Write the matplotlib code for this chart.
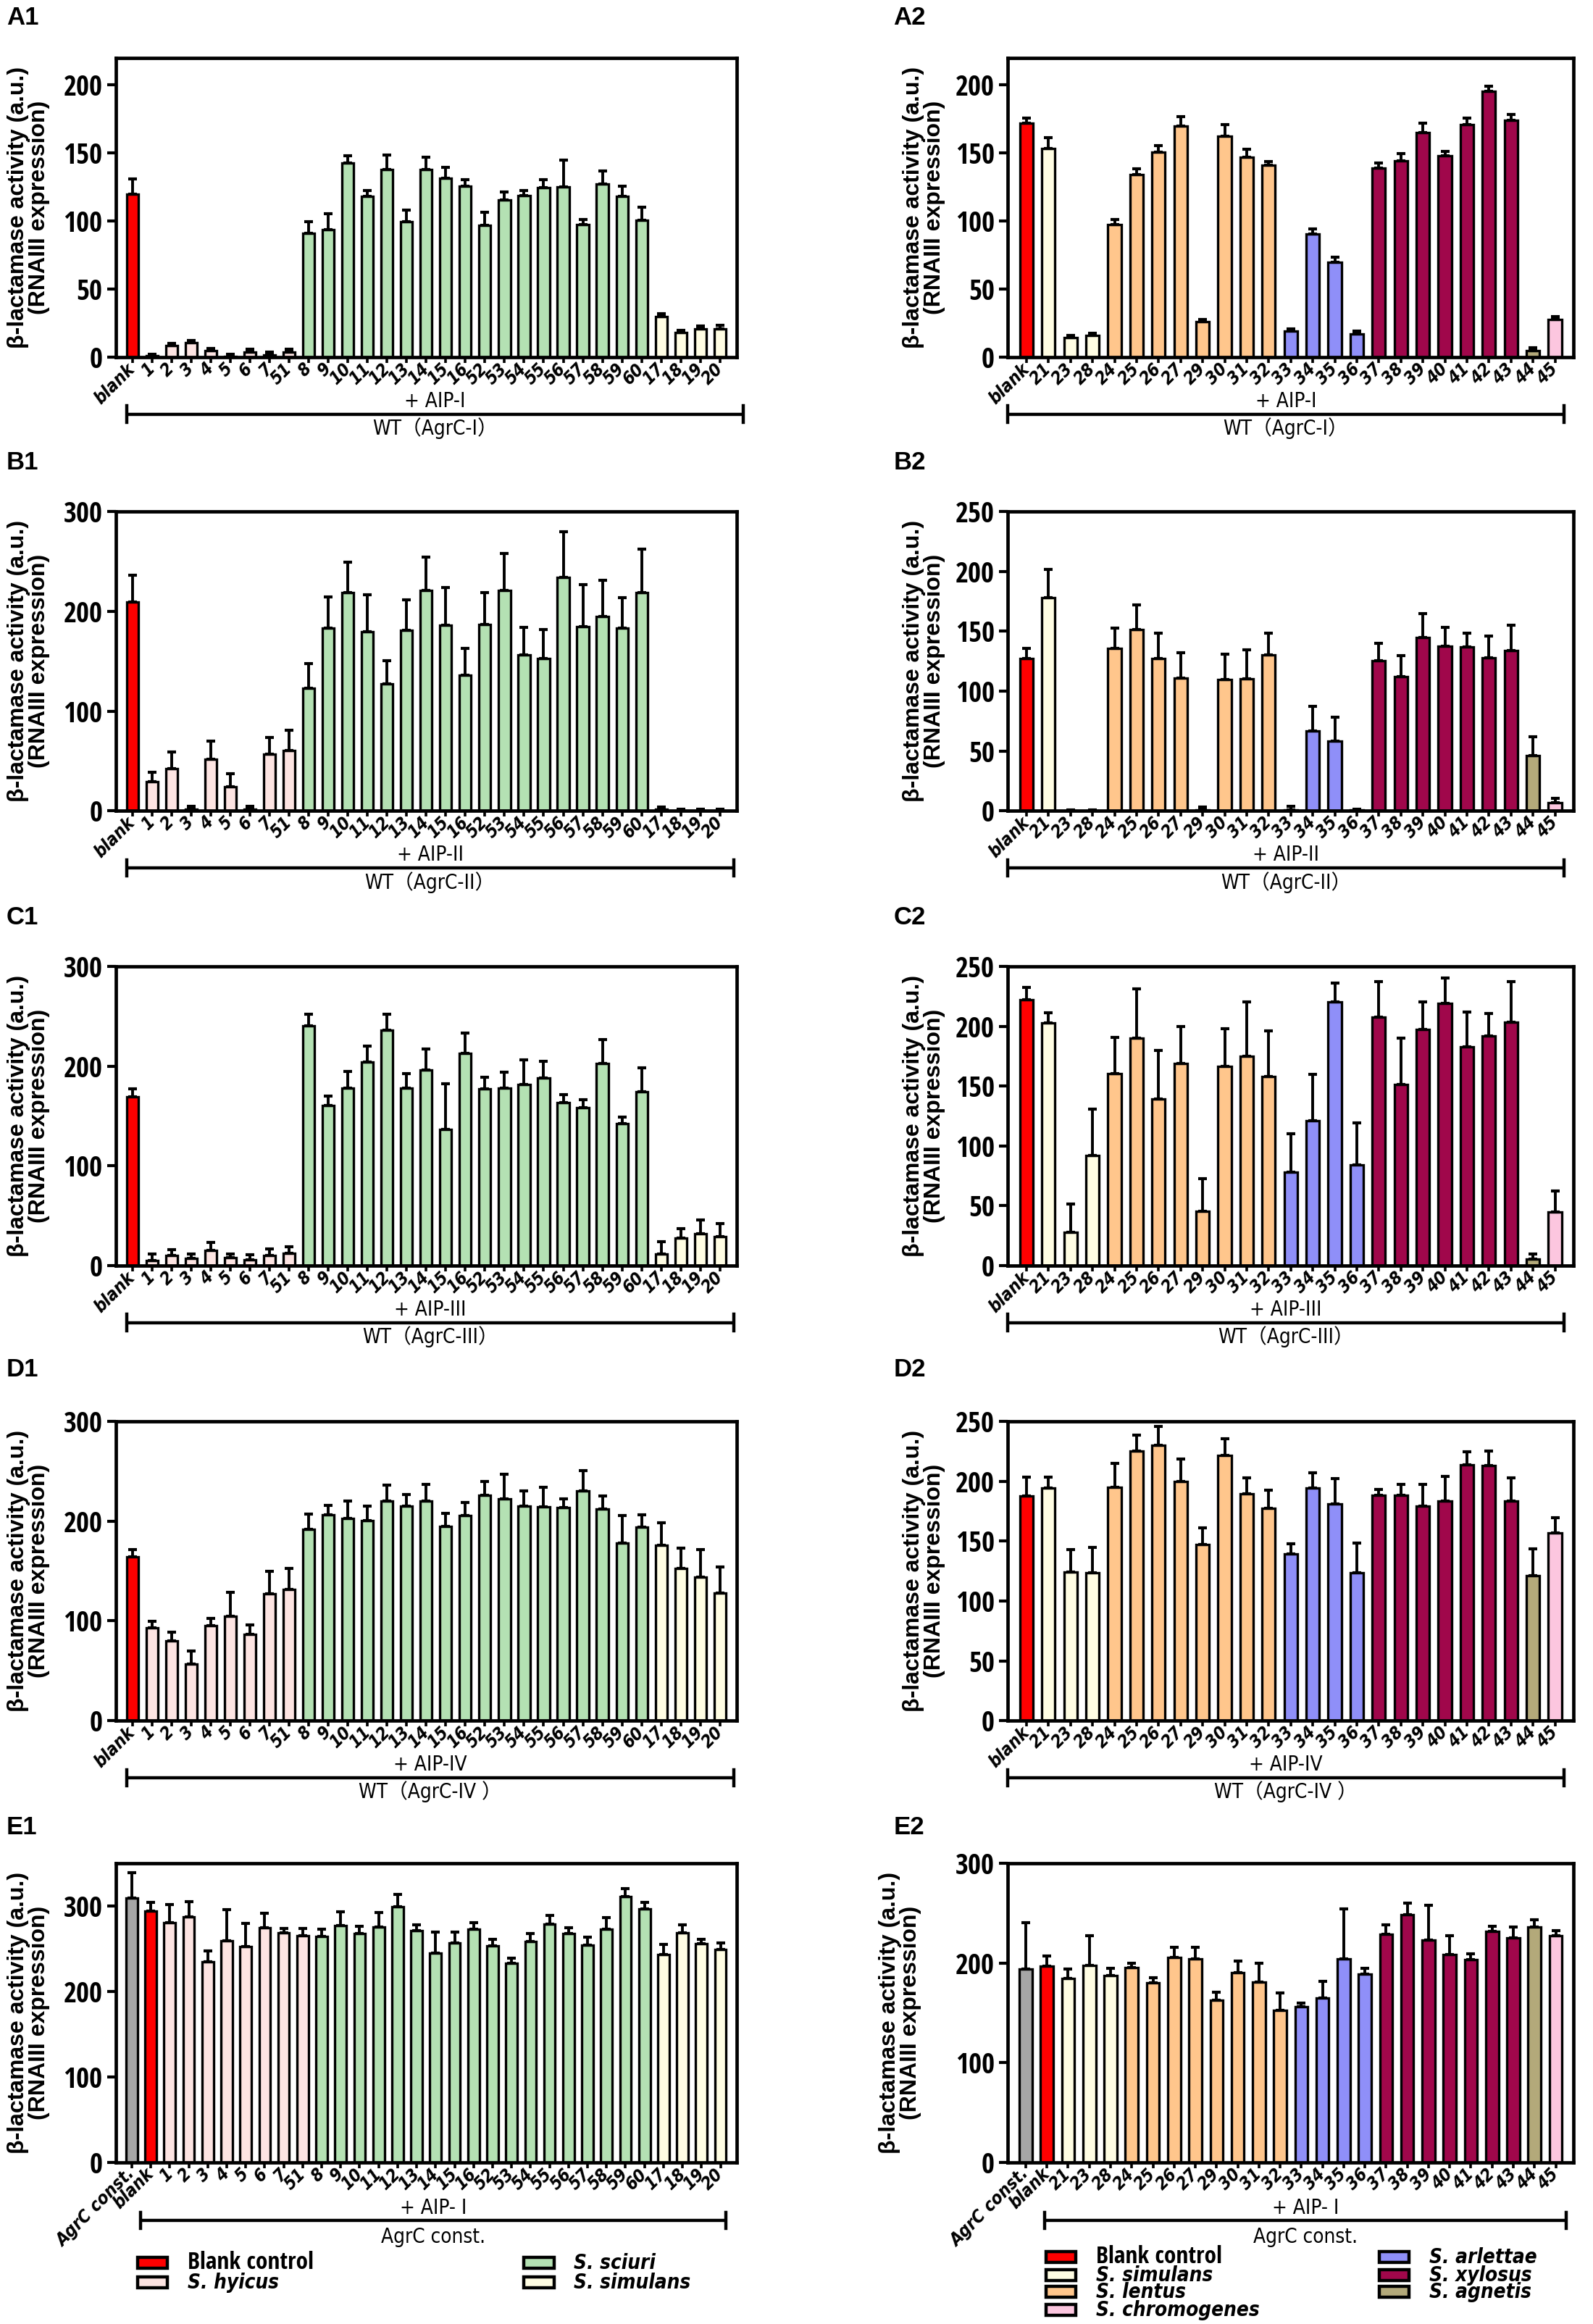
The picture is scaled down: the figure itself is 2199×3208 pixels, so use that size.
import matplotlib
matplotlib.use('Agg')
import matplotlib.pyplot as plt
import matplotlib.transforms as mtransforms
from matplotlib.patches import Rectangle

# narrow-looking fonts (no Arial Narrow here)
YTICK = dict(family='Open Sans Condensed', stretch='condensed', weight='bold', size=28)
XTICK = dict(family='DejaVu Sans', stretch='condensed', weight='bold', style='oblique', size=17.5)
NOTE = dict(family=['DejaVu Sans', 'Noto Sans CJK SC'], stretch='condensed', size=20)
WIDE = ['Liberation Sans', 'DejaVu Sans']

colors = {
    'agrc': '#a6a6a6',
    'blank': '#ff0000',
    'hyicus': '#fde4e2',
    'sciuri': '#b4e1b3',
    'simulans': '#fffde3',
    'lentus': '#ffc68c',
    'arlettae': '#8f8ff8',
    'xylosus': '#a0074b',
    'agnetis': '#b3a97a',
    'chromogenes': '#fcc6df',
}

# ---- categories ----
left_cats = ['blank', '1', '2', '3', '4', '5', '6', '7', '51',
             '8', '9', '10', '11', '12', '13', '14', '15', '16', '52', '53', '54',
             '55', '56', '57', '58', '59', '60', '17', '18', '19', '20']
left_groups = ['blank'] + ['hyicus'] * 8 + ['sciuri'] * 18 + ['simulans'] * 4

right_cats = ['blank', '21', '23', '28', '24', '25', '26', '27', '29', '30', '31', '32',
              '33', '34', '35', '36', '37', '38', '39', '40', '41', '42', '43', '44', '45']
right_groups = (['blank'] + ['simulans'] * 3 + ['lentus'] * 8 + ['arlettae'] * 4
                + ['xylosus'] * 7 + ['agnetis'] + ['chromogenes'])

# ---- values (mean, SD) ----
a1_mean = [120, 1, 8.6, 10.5, 4.8, 0.5, 4, 1.5, 4, 91, 94, 142.5, 118.5, 137.7, 99.4, 137.7,
           131.4, 125.7, 96.8, 115.4, 119, 124.6, 125, 97.5, 127.4, 118.5, 100.8, 30, 18, 20.6, 21]
a1_sd = [11, 1, 1.5, 2, 1.5, 1.5, 2, 2.5, 2, 8.5, 11.5, 5.3, 3.8, 11, 8.6, 9.3,
         8.4, 4.6, 9.5, 6.1, 3.7, 6.1, 20, 3.5, 9.6, 7, 9.5, 2.2, 1.6, 2.3, 2.2]

a2_mean = [171.9, 153.4, 14.6, 16, 97.3, 134, 150.6, 170, 26, 162.4, 146.8, 141, 19, 90.7,
           69.8, 17, 139, 144.3, 165, 148, 171, 195.4, 174, 5, 27.7]
a2_sd = [4.1, 8.2, 1.6, 1.7, 3.7, 4.6, 4.9, 6.8, 1.8, 8.6, 6.1, 3, 1.9, 3.6,
         3.6, 2, 3.6, 5.1, 7, 3.3, 4.6, 4, 4.3, 2.2, 2.1]

b1_mean = [209, 29.6, 42.6, 2, 51.7, 24.4, 1.6, 57, 60.8, 123, 183.5, 218.6, 179.4, 127.6, 181,
           220.7, 186, 135.7, 187, 220.7, 156.5, 152.6, 234, 184.3, 195, 183, 218.6, 1.5, 0.5, 0.5, 0.5]
b1_sd = [27, 9.1, 16.4, 2.7, 18.3, 13, 3.1, 16.8, 20.2, 24.6, 31.2, 30.9, 36.9, 23.2, 30.6,
         33.3, 38, 27.3, 31.9, 37.2, 27.3, 29.4, 45.7, 42.4, 36, 31, 43.4, 2, 1.5, 1, 1]

b2_mean = [127, 177.9, 0, 0, 135.6, 151.4, 127.2, 110.7, 1, 109.6, 110, 130.2, 1, 67,
           58.3, 0.5, 125.2, 111.8, 144.7, 137.3, 136.7, 127.6, 133.7, 46.4, 6.7]
b2_sd = [8.6, 24, 1, 1, 16.9, 20.6, 21.4, 21.3, 2, 21.2, 24.7, 18.4, 2.9, 20.5,
         20.1, 1, 14.8, 17.7, 20.3, 15.7, 11.9, 18.2, 21.3, 15.3, 3.7]

c1_mean = [169, 5.5, 9.9, 7.3, 15, 7.8, 6.2, 10.4, 12.2, 240.4, 160.6, 177.8, 204.3, 236, 177.8,
           196.3, 136.7, 212.6, 177.3, 177.8, 181.4, 188.2, 163.5, 158, 202.8, 142.4, 174, 12, 27.3, 32.2, 29.4]
c1_sd = [8, 5.9, 6.1, 4.7, 8, 4.2, 4.5, 6.6, 7, 11.5, 9.4, 16.9, 15.7, 16, 14.8,
         21, 45.3, 20.4, 11.7, 16.2, 25, 16.8, 8.1, 8.6, 23.6, 6.6, 24.6, 12, 9.9, 13.6, 13]

c2_mean = [222.3, 202.6, 27.7, 91.9, 160.3, 190.2, 139, 169, 45.7, 166.4, 175, 157.7, 77.8, 121.3,
           220.3, 84.3, 207.3, 151.2, 197.4, 219, 182.8, 192, 203.4, 5.6, 45]
c2_sd = [10.2, 8.8, 23.9, 39.1, 30.3, 41.2, 41, 31, 26.7, 31.4, 45.5, 38.6, 32.5, 38.7,
         15.7, 35.1, 30.1, 38.6, 22.6, 21.5, 29.1, 18.6, 33.6, 4.4, 17.6]

d1_mean = [164, 93.3, 80.3, 56.7, 95.4, 105, 86.8, 126.9, 131.3, 191.8, 206, 202.8, 200.7, 220, 215.2,
           220, 194.7, 205.4, 225.9, 222.5, 215.2, 214.5, 213.7, 230.3, 212, 177.8, 194, 175.7, 152.3, 143.7, 127.6]
d1_sd = [7.6, 6.5, 8.1, 13.5, 7, 24, 9.4, 22.8, 21.5, 15.6, 9.8, 17.2, 14.5, 15.8, 11.2,
         17, 13.3, 13.5, 13.5, 24.2, 14.8, 19.2, 8.8, 20.7, 13, 27.6, 12.7, 22.9, 20.7, 27.9, 26.3]

d2_mean = [187.6, 194.1, 124.3, 123.3, 194.8, 225, 229.9, 199.7, 147.3, 221.6, 189.3, 177.2, 139, 194.3,
           180.9, 123.7, 188.3, 188.3, 179, 183.3, 214, 213.2, 183.7, 121.3, 156.8]
d2_sd = [15.8, 9.3, 18.9, 21.4, 20.3, 13.3, 16.1, 19.1, 13.7, 14.1, 13.5, 15.6, 9, 12.6,
         21.4, 24.7, 4.9, 9.3, 18.6, 21, 10.4, 11.7, 19.1, 22.5, 13]

e1_mean = [309.3, 293.9, 280.6, 287.3, 235, 259.4, 252.2, 274.6, 268.5, 265.2, 264.6, 277, 268, 275.2,
           298.8, 271, 245, 256.4, 272.8, 253.4, 232.8, 258.2, 278.8, 268, 254, 272.8, 310.8, 296.3,
           243.4, 268.5, 255.5, 248.9]
e1_sd = [29.4, 10, 21.2, 18.1, 12.3, 36.3, 27.2, 17.2, 4.9, 8.2, 8.2, 16.3, 8.4, 17.2,
         14.5, 7.2, 24, 13.3, 7.8, 7.9, 6.1, 9.1, 10.2, 6.6, 9.4, 13.9, 9.7, 7.9,
         11.2, 9.1, 5.2, 7.5]

e2_mean = [193.8, 196.9, 184.2, 197.4, 187.6, 195.3, 180, 205.2, 203.9, 162.7, 190.2, 180.8, 152.3,
           156, 165, 203.9, 188.9, 228.5, 248.7, 222.8, 208.5, 203, 231.6, 224.9, 235.8, 227]
e2_sd = [46.6, 9.8, 9.6, 29.6, 6.7, 4.7, 5, 10.3, 11.6, 7.8, 11.4, 19.2, 17.7,
         3.6, 16.9, 50, 5.9, 9.8, 10.9, 34.7, 18.5, 5.8, 5.2, 11.4, 7.2, 5.6]

ylab = 'β-lactamase activity (a.u.)\n(RNAIII expression)'

fig = plt.figure(figsize=(21.99, 32.08), dpi=100)

LX, LW = 0.0726, 0.3898
RX, RW = 0.6326, 0.3553
BOTTOMS = [0.8463, 0.6511, 0.4554, 0.2596, 0.0695]
H = 0.1288


def panel(rect, cats, groups, mean, sd, ymax, ystep, aip, wt, tag, tag_xy,
          bracket, ylab_x, rows=(-0.148, -0.19, -0.238)):
    ax = fig.add_axes(rect)
    x = list(range(len(cats)))
    ax.bar(x, mean, width=0.6, color=[colors[g] for g in groups],
           edgecolor='black', linewidth=2.4, zorder=2)
    ax.errorbar(x, mean, yerr=[[0] * len(sd), sd], fmt='none', ecolor='black',
                elinewidth=2.8, capsize=4, capthick=3, zorder=3)
    ax.set_xlim(-0.85, len(cats) - 0.15)
    ax.set_ylim(0, ymax)
    ax.set_yticks(range(0, int(ymax // ystep * ystep) + 1, ystep))
    ax.set_xticks(x)
    ax.set_xticklabels(cats, rotation=45, ha='right', va='center',
                       rotation_mode='anchor', **XTICK)
    for lab in ax.get_yticklabels():
        lab.set_fontproperties(matplotlib.font_manager.FontProperties(**YTICK))
    ax.tick_params(axis='y', direction='out', length=9, width=3, pad=4)
    ax.tick_params(axis='x', direction='out', length=6, width=2.6, pad=3)
    for s in ax.spines.values():
        s.set_linewidth(3.4)
    ax.set_ylabel(ylab, fontsize=23, fontweight='bold', family=WIDE, linespacing=0.95)
    ax.yaxis.set_label_coords(ylab_x, 0.5)

    tr = mtransforms.blended_transform_factory(ax.transData, ax.transAxes)
    b0, b1 = bracket
    ly = rows[1]
    ax.plot([b0, b1], [ly, ly], transform=tr, color='black', lw=3.2,
            clip_on=False, solid_capstyle='butt')
    for bx in (b0, b1):
        ax.plot([bx, bx], [ly - 0.027, ly + 0.027], transform=tr, color='black',
                lw=3.2, clip_on=False)
    xm = (b0 + b1) / 2
    ax.text(xm, rows[0], aip, transform=tr, ha='center', va='center', **NOTE)
    ax.text(xm, rows[2], wt, transform=tr, ha='center', va='center', **NOTE)
    fig.text(tag_xy[0], tag_xy[1], tag, fontsize=25, fontweight='bold',
             family=WIDE, va='center', ha='left')
    return ax


nl, nr = len(left_cats), len(right_cats)
panel([LX, BOTTOMS[0], LW, H], left_cats, left_groups, a1_mean, a1_sd, 220, 50,
      '+ AIP-I', 'WT（AgrC-I）', 'A1', (0.004, 0.9923), (-0.3, nl - 1 + 1.2), -0.106)
panel([RX, BOTTOMS[0], RW, H], right_cats, right_groups, a2_mean, a2_sd, 220, 50,
      '+ AIP-I', 'WT（AgrC-I）', 'A2', (0.561, 0.9923), (-0.85, nr - 1 + 0.4), -0.11)
panel([LX, BOTTOMS[1], LW, H], left_cats, left_groups, b1_mean, b1_sd, 300, 100,
      '+ AIP-II', 'WT（AgrC-II）', 'B1', (0.004, 0.801), (-0.3, nl - 1 + 0.7), -0.106)
panel([RX, BOTTOMS[1], RW, H], right_cats, right_groups, b2_mean, b2_sd, 250, 50,
      '+ AIP-II', 'WT（AgrC-II）', 'B2', (0.561, 0.801), (-0.85, nr - 1 + 0.4), -0.11)
panel([LX, BOTTOMS[2], LW, H], left_cats, left_groups, c1_mean, c1_sd, 300, 100,
      '+ AIP-III', 'WT（AgrC-III）', 'C1', (0.004, 0.6053), (-0.3, nl - 1 + 0.7), -0.106)
panel([RX, BOTTOMS[2], RW, H], right_cats, right_groups, c2_mean, c2_sd, 250, 50,
      '+ AIP-III', 'WT（AgrC-III）', 'C2', (0.561, 0.6053), (-0.85, nr - 1 + 0.4), -0.11)
panel([LX, BOTTOMS[3], LW, H], left_cats, left_groups, d1_mean, d1_sd, 300, 100,
      '+ AIP-IV', 'WT（AgrC-IV ）', 'D1', (0.004, 0.4107), (-0.3, nl - 1 + 0.7), -0.106)
panel([RX, BOTTOMS[3], RW, H], right_cats, right_groups, d2_mean, d2_sd, 250, 50,
      '+ AIP-IV', 'WT（AgrC-IV ）', 'D2', (0.561, 0.4107), (-0.85, nr - 1 + 0.4), -0.11)
panel([LX, BOTTOMS[4], LW, H], ['AgrC const.'] + left_cats, ['agrc'] + left_groups,
      e1_mean, e1_sd, 350, 100, '+ AIP- I', 'AgrC const.', 'E1', (0.004, 0.2136),
      (0.45, nl + 0.3), -0.106, rows=(-0.153, -0.193, -0.25))
panel([RX, BOTTOMS[4], RW, H], ['AgrC const.'] + right_cats, ['agrc'] + right_groups,
      e2_mean, e2_sd, 300, 100, '+ AIP- I', 'AgrC const.', 'E2', (0.561, 0.2136),
      (0.9, nr + 0.5), -0.153, rows=(-0.153, -0.193, -0.248))

# ---- legends ----
legend_left = [('blank', 'Blank control'), ('hyicus', 'S. hyicus'),
               ('sciuri', 'S. sciuri'), ('simulans', 'S. simulans')]
legend_right = [('blank', 'Blank control'), ('simulans', 'S. simulans'),
                ('lentus', 'S. lentus'), ('chromogenes', 'S. chromogenes'),
                ('arlettae', 'S. arlettae'), ('xylosus', 'S. xylosus'),
                ('agnetis', 'S. agnetis')]


def legend_entry(px, py, key, text):
    w, h = 0.0187, 0.0047
    fig.add_artist(Rectangle((px, py - h / 2), w, h, transform=fig.transFigure,
                             facecolor=colors[key], edgecolor='black', linewidth=3.2))
    if key == 'blank':
        props = dict(family='Open Sans Condensed', stretch='condensed', weight='bold', size=24)
    else:
        props = dict(family='DejaVu Sans', stretch='condensed', weight='bold',
                     style='oblique', size=20)
    fig.text(px + w + 0.0125, py, text, va='center', ha='left', **props)


rows_l = [0.0262, 0.0179]
for i, (k, t) in enumerate(legend_left):
    col, row = divmod(i, 2)
    legend_entry([0.0865, 0.329][col], rows_l[row], k, t)

rows_r = [0.0287, 0.0210, 0.0138, 0.0060]
for i, (k, t) in enumerate(legend_right):
    col, row = divmod(i, 4)
    legend_entry([0.6567, 0.866][col], rows_r[row], k, t)

fig.savefig('out.png', dpi=100)
